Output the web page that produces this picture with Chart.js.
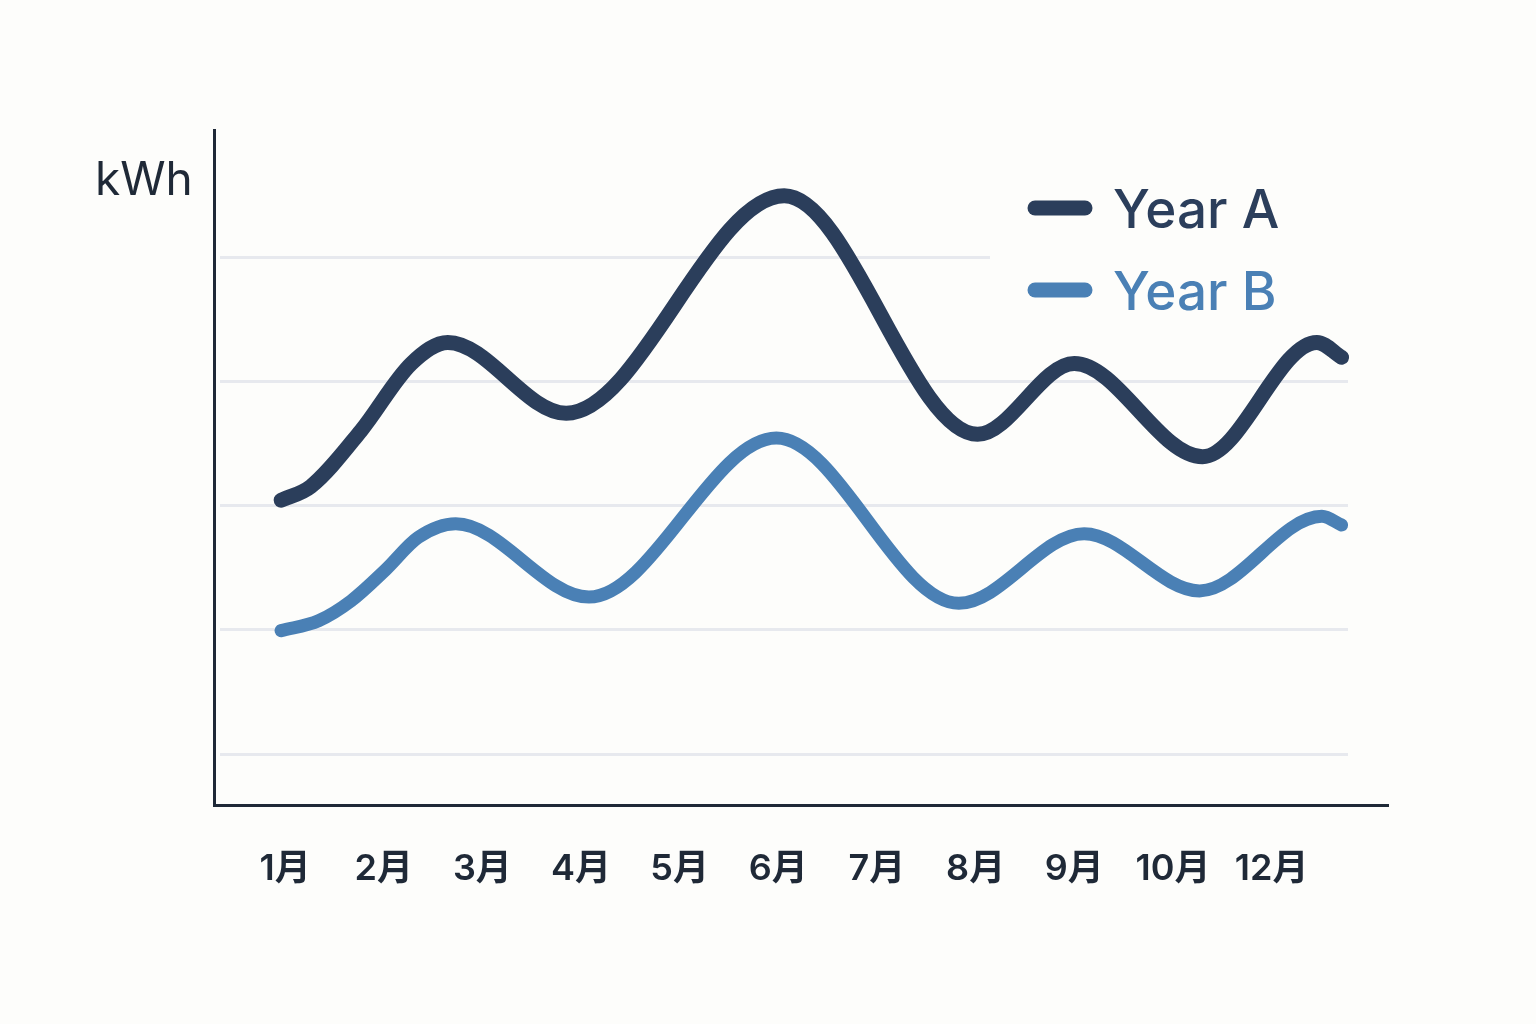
<!DOCTYPE html>
<html>
<head>
<meta charset="utf-8">
<script src="https://cdn.jsdelivr.net/npm/chart.js@4.4.1/dist/chart.umd.min.js"></script>
<style>
  html, body { margin: 0; padding: 0; background: #fdfdfb; }
  #wrap { width: 1536px; height: 1024px; position: relative; }
</style>
</head>
<body>
<div id="wrap"><canvas id="c"></canvas></div>
<script>
// ---- data ----
const tickLabels = ['1月','2月','3月','4月','5月','6月','7月','8月','9月','10月','12月'];
const gridValues = [100, 200, 300, 400, 500];
const unitLabel = 'kWh';
const seriesNames = ['Year A', 'Year B'];

// x positions in month-tick units (0 = 1月 ... 10 = 12月)
const yearAX = [-0.04, 0.26, 0.77, 1.28, 1.65, 2.85, 5.06, 7.02, 8.00, 9.30, 10.46, 10.71];
const yearAY = [304, 315, 360, 414, 431, 374, 549, 357, 414, 339, 431, 419];
const yearBX = [-0.04, 0.34, 0.67, 1.02, 1.35, 1.73, 3.08, 4.98, 6.83, 8.10, 9.27, 10.51, 10.71];
const yearBY = [199, 207, 223, 248, 274, 285, 226, 354, 221, 277, 231, 291, 284];

const colorA = '#2b3e5b';
const colorB = '#4a80b5';
const axisColor = '#1f2937';
const gridColor = '#e7e9ee';
const bgColor = '#fdfdfb';

const toPoints = (xs, ys) => xs.map((x, i) => ({ x: x, y: ys[i] }));

const gridPlugin = {
  id: 'partialGrid',
  beforeDatasetsDraw(chart) {
    const { ctx, chartArea, scales } = chart;
    ctx.save();
    ctx.strokeStyle = gridColor;
    ctx.lineWidth = 3;
    gridValues.forEach(v => {
      const y = Math.round(scales.y.getPixelForValue(v)) + 0.5;
      ctx.beginPath();
      ctx.moveTo(chartArea.left + 6, y);
      ctx.lineTo(chartArea.right - 40, y);
      ctx.stroke();
    });
    ctx.restore();
  }
};

const decorPlugin = {
  id: 'decor',
  afterDraw(chart) {
    const { ctx, chartArea } = chart;
    ctx.save();
    // unit label
    ctx.fillStyle = axisColor;
    ctx.font = '400 46px Inter, "Noto Sans", sans-serif';
    ctx.textAlign = 'left';
    ctx.textBaseline = 'alphabetic';
    ctx.fillText(unitLabel, chartArea.left - 119, chartArea.top + 65);

    // legend box
    const lx = chartArea.right - 398;
    const ly = chartArea.top + 48;
    ctx.fillStyle = bgColor;
    ctx.fillRect(lx, ly, 370, 150);
    chart.data.datasets.forEach((ds, i) => {
      const cy = chartArea.top + 78 + i * 82;
      ctx.strokeStyle = ds.borderColor;
      ctx.lineWidth = 15;
      ctx.lineCap = 'round';
      ctx.beginPath();
      ctx.moveTo(chartArea.right - 353, cy);
      ctx.lineTo(chartArea.right - 303, cy);
      ctx.stroke();
      ctx.fillStyle = ds.borderColor;
      ctx.font = '500 53px Inter, "Noto Sans", sans-serif';
      ctx.textBaseline = 'alphabetic';
      ctx.fillText(ds.label, chartArea.right - 275, cy + 20);
    });
    ctx.restore();
  }
};

new Chart(document.getElementById('c'), {
  type: 'line',
  data: {
    datasets: [
      {
        label: seriesNames[0],
        data: toPoints(yearAX, yearAY),
        borderColor: colorA,
        backgroundColor: colorA,
        borderWidth: 15,
        pointRadius: 0,
        cubicInterpolationMode: 'monotone',
        borderCapStyle: 'round',
        borderJoinStyle: 'round',
        fill: false
      },
      {
        label: seriesNames[1],
        data: toPoints(yearBX, yearBY),
        borderColor: colorB,
        backgroundColor: colorB,
        borderWidth: 13,
        pointRadius: 0,
        cubicInterpolationMode: 'monotone',
        borderCapStyle: 'round',
        borderJoinStyle: 'round',
        fill: false
      }
    ]
  },
  options: {
    responsive: true,
    maintainAspectRatio: false,
    animation: false,
    devicePixelRatio: 1,
    layout: { padding: { left: 214, right: 148, top: 130, bottom: 91 } },
    plugins: { legend: { display: false }, tooltip: { enabled: false } },
    scales: {
      x: {
        type: 'linear',
        min: -0.72,
        max: 11.18,
        afterBuildTicks(scale) { scale.ticks = tickLabels.map((_, i) => ({ value: i })); },
        grid: { display: false, drawTicks: false },
        border: { display: true, color: axisColor, width: 3 },
        ticks: {
          autoSkip: false,
          maxRotation: 0,
          padding: 42,
          color: axisColor,
          font: { family: 'Inter, "Noto Sans CJK SC", sans-serif', size: 36, weight: '600' },
          callback: (v) => tickLabels[v]
        }
      },
      y: {
        min: 58,
        max: 602,
        afterBuildTicks(scale) { scale.ticks = gridValues.map(v => ({ value: v })); },
        grid: { display: false, drawTicks: false },
        border: { display: true, color: axisColor, width: 3 },
        ticks: { display: false }
      }
    }
  },
  plugins: [gridPlugin, decorPlugin]
});
</script>
</body>
</html>
